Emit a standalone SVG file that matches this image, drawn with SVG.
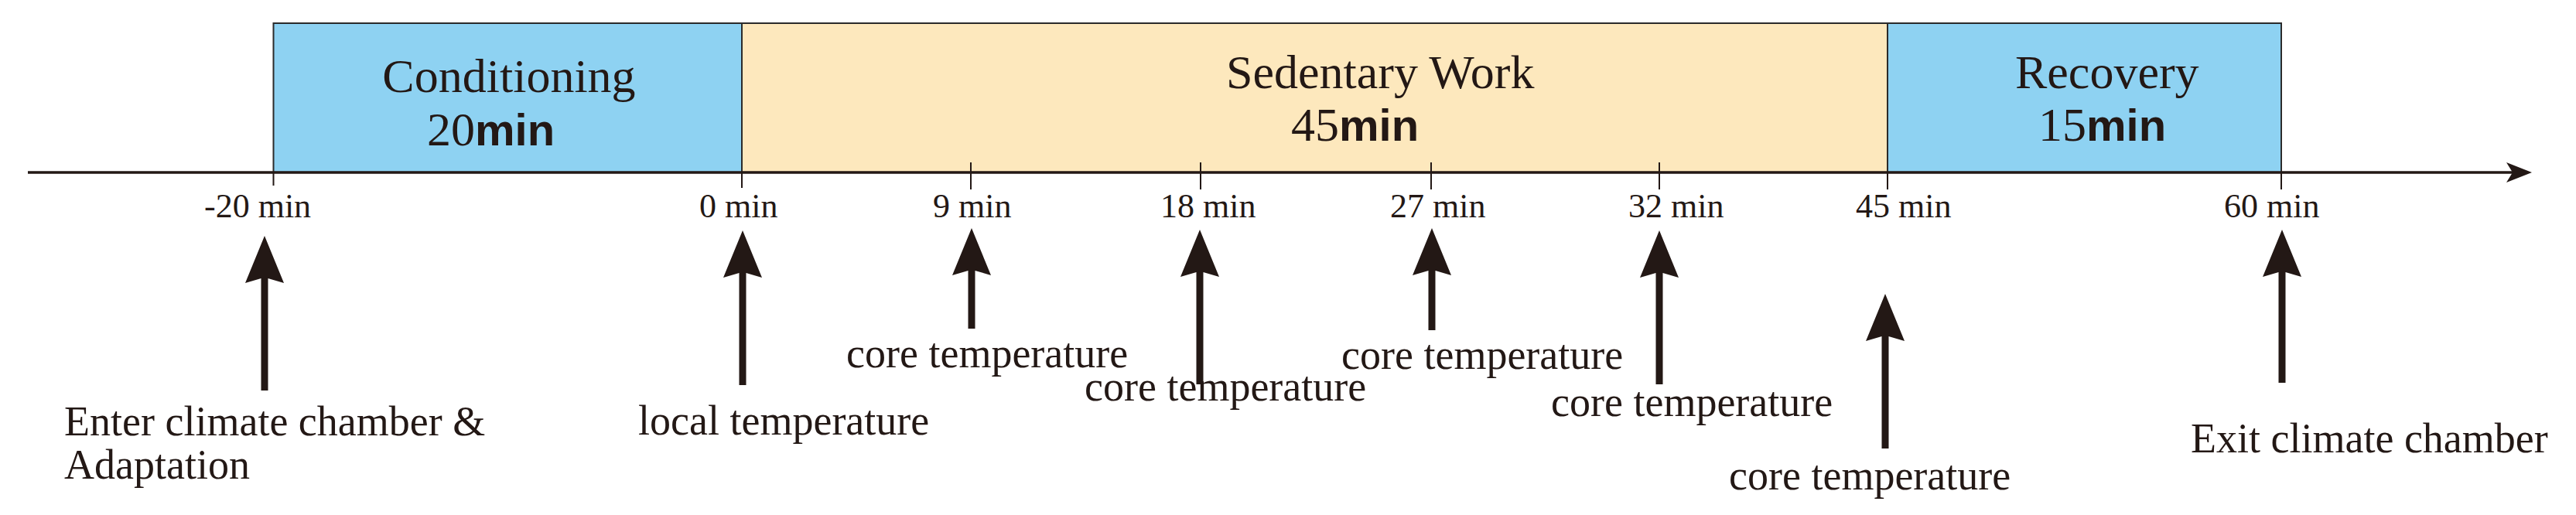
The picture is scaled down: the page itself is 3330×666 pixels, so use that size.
<svg xmlns="http://www.w3.org/2000/svg" width="3330" height="666" viewBox="0 0 3330 666">
<style>
.ser{font-family:"Liberation Serif","Times New Roman",serif;fill:#231815}
.ttl{font-size:62px}
.tick{font-size:44px}
.lab{font-size:54px}
.sans{font-family:"Liberation Sans",Arial,sans-serif;font-weight:bold;font-size:58px}
.box{stroke:#2b2b2b;stroke-width:2}
.tk{stroke:#231815;stroke-width:2}
.arr{fill:#231815}
</style>
<rect width="3330" height="666" fill="#ffffff"/>
<g id="phase-conditioning">
<rect class="box" x="353.5" y="30" width="605.5" height="193" fill="#8ed2f2"/>
<text class="ser ttl" x="658" y="119" text-anchor="middle">Conditioning</text>
<text class="ser ttl" x="552" y="188">20<tspan class="sans">min</tspan></text>
</g>
<g id="phase-sedentary">
<rect class="box" x="959" y="30" width="1481" height="193" fill="#fde8bd"/>
<text class="ser ttl" x="1585" y="114">Sedentary Work</text>
<text class="ser ttl" x="1669" y="182">45<tspan class="sans">min</tspan></text>
</g>
<g id="phase-recovery">
<rect class="box" x="2440" y="30" width="509" height="193" fill="#8ed2f2"/>
<text class="ser ttl" x="2605" y="114">Recovery</text>
<text class="ser ttl" x="2635" y="182">15<tspan class="sans">min</tspan></text>
</g>
<g id="axis">
<line x1="36" y1="223" x2="3250" y2="223" stroke="#231815" stroke-width="3.5"/>
<polygon class="arr" points="3273,223 3240,210 3248,223 3240,236"/>
<line class="tk" x1="353.5" y1="223" x2="353.5" y2="240"/>
<line class="tk" x1="959" y1="223" x2="959" y2="243"/>
<line class="tk" x1="1255" y1="210" x2="1255" y2="245"/>
<line class="tk" x1="1552" y1="210" x2="1552" y2="245"/>
<line class="tk" x1="1850" y1="210" x2="1850" y2="245"/>
<line class="tk" x1="2145" y1="210" x2="2145" y2="245"/>
<line class="tk" x1="2440" y1="223" x2="2440" y2="245"/>
<line class="tk" x1="2949" y1="223" x2="2949" y2="245"/>
<text class="ser tick" x="264" y="281">-20 min</text>
<text class="ser tick" x="904" y="281">0 min</text>
<text class="ser tick" x="1206" y="281">9 min</text>
<text class="ser tick" x="1500" y="281">18 min</text>
<text class="ser tick" x="1797" y="281">27 min</text>
<text class="ser tick" x="2105" y="281">32 min</text>
<text class="ser tick" x="2399" y="281">45 min</text>
<text class="ser tick" x="2875" y="281">60 min</text>
</g>
<g id="connectors">
<path class="arr" d="M342,305 L367,366 L346.5,360 L346.5,505 L337.5,505 L337.5,360 L317,366 Z"/>
<path class="arr" d="M960,298 L985,359 L964.5,353 L964.5,498 L955.5,498 L955.5,353 L935,359 Z"/>
<path class="arr" d="M1256,295 L1281,356 L1260.5,350 L1260.5,425 L1251.5,425 L1251.5,350 L1231,356 Z"/>
<path class="arr" d="M1551,297 L1576,358 L1555.5,352 L1555.5,497 L1546.5,497 L1546.5,352 L1526,358 Z"/>
<path class="arr" d="M1851,295 L1876,356 L1855.5,350 L1855.5,427 L1846.5,427 L1846.5,350 L1826,356 Z"/>
<path class="arr" d="M2145,298 L2170,359 L2149.5,353 L2149.5,497 L2140.5,497 L2140.5,353 L2120,359 Z"/>
<path class="arr" d="M2437,380 L2462,441 L2441.5,435 L2441.5,580 L2432.5,580 L2432.5,435 L2412,441 Z"/>
<path class="arr" d="M2950,297 L2975,358 L2954.5,352 L2954.5,495 L2945.5,495 L2945.5,352 L2925,358 Z"/>
</g>
<g id="label-enter">
<text class="ser lab" x="83" y="563">Enter climate chamber &amp;</text>
<text class="ser lab" x="83" y="619">Adaptation</text>
</g>
<g id="label-local"><text class="ser lab" x="825" y="562">local temperature</text></g>
<g id="label-core9"><text class="ser lab" x="1094" y="475">core temperature</text></g>
<g id="label-core18"><text class="ser lab" x="1402" y="518">core temperature</text></g>
<g id="label-core27"><text class="ser lab" x="1734" y="477">core temperature</text></g>
<g id="label-core32"><text class="ser lab" x="2005" y="538">core temperature</text></g>
<g id="label-core45"><text class="ser lab" x="2235" y="633">core temperature</text></g>
<g id="label-exit"><text class="ser lab" x="2832" y="585">Exit climate chamber</text></g>
</svg>
